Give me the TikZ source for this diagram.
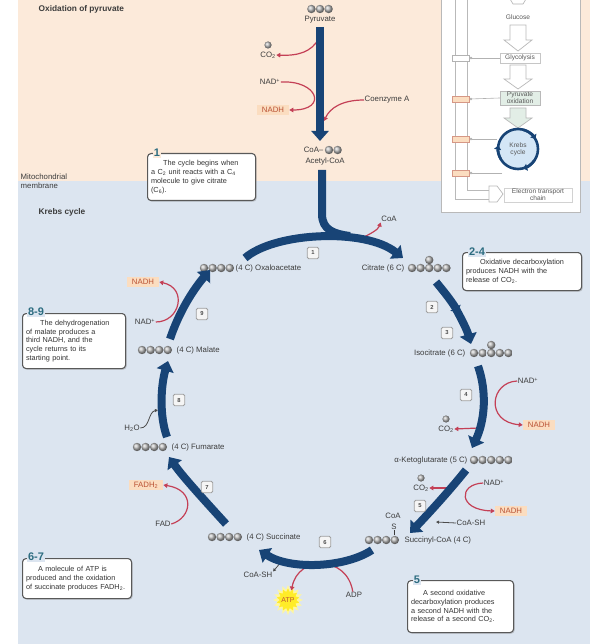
\documentclass[tikz,border=0pt]{standalone}
\usepackage{fontspec}
\setmainfont{Liberation Sans}
\usetikzlibrary{arrows.meta,shapes.geometric,shadows}

\definecolor{peachbg}{RGB}{252,234,218}
\definecolor{bluebg}{RGB}{220,229,240}
\definecolor{navy}{RGB}{24,68,118}
\definecolor{redc}{RGB}{196,64,86}
\definecolor{nadfill}{RGB}{251,221,192}
\definecolor{nadtxt}{RGB}{186,82,52}
\definecolor{tealnum}{RGB}{44,108,128}
\definecolor{txt}{RGB}{60,60,60}
\definecolor{pyrfill}{RGB}{226,238,230}
\definecolor{krebsfill}{RGB}{212,230,246}
\definecolor{atpyellow}{RGB}{255,236,40}

\begin{document}
\begin{tikzpicture}[x=1pt,y=-1pt,
  lbl/.style={font=\fontsize{7.8}{8.8}\selectfont, text=txt, inner sep=0.5pt},
  hdr/.style={font=\bfseries\fontsize{8.3}{9}\selectfont, text=txt, inner sep=0.5pt},
  nadbox/.style={lbl, fill=nadfill, text=nadtxt, inner xsep=5pt, inner ysep=2pt},
  stepbox/.style={draw=gray!75, fill=gray!8, rounded corners=1.5pt, line width=0.9pt,
    minimum size=11.5pt, inner sep=0, font=\bfseries\fontsize{5.8}{6}\selectfont, text=gray!60!black},
  callout/.style={draw=black!65, line width=1.1pt, rounded corners=3.5pt, fill=white,
    align=left, inner sep=3.5pt, font=\fontsize{7.3}{8.8}\selectfont, text=black!80,
    anchor=north west, drop shadow={opacity=0.3,shadow xshift=1.2pt,shadow yshift=-1.2pt}},
  calloutnum/.style={font=\bfseries\fontsize{11}{11}\selectfont, text=tealnum, inner sep=1pt},
  cyc/.style={draw=navy, line width=8pt, -{Triangle[width=17pt,length=10pt]}},
  cycmid/.style={draw=navy, line width=8pt, -{Triangle[width=12pt,length=5pt]}},
  redarr/.style={draw=redc, line width=1.2pt, -{Triangle[width=4.5pt,length=4pt]}},
  darkarr/.style={draw=black!70, line width=0.8pt, -{Triangle[width=3pt,length=3pt]}},
  cball/.style={ball color=gray!55},
  insetlbl/.style={font=\fontsize{6.6}{7.2}\selectfont, text=gray!70!black, inner sep=1pt},
  pics/carbons/.style={code={\foreach \k in {1,...,#1} \shade[cball] ({(\k-1)*8.6},0) circle (4.2);}}
]
\useasboundingbox (0,0) rectangle (590,644);

% backgrounds: intermembrane space above, matrix below
\fill[white] (0,0) rectangle (590,644);
\fill[peachbg] (18,0) rectangle (590,181);
\fill[bluebg] (18,181) rectangle (590,644);

\node[hdr, anchor=west] (hdrox) at (38,9) {Oxidation of pyruvate};
\node[lbl, anchor=west, align=left] (membr) at (20,181) {Mitochondrial\\membrane};
\node[hdr, anchor=west] (hdrkc) at (38,212) {Krebs cycle};

% ---------- overview inset ----------
\draw[gray!55, line width=0.8pt, fill=white] (441,-2) rectangle (580,212);
\draw[gray!55, line width=0.7pt] (455,-2) |- (489,199);
\draw[gray!55, line width=0.7pt] (467,-2) |- (489,190);
\draw[gray!60, line width=0.6pt] (510,-1) -- (513,4) -- (523,4) -- (526,-1);
\node[insetlbl] (gluc) at (518,17) {Glucose};
\draw[gray!55, line width=0.7pt, fill=white]
  (510,25) -- (526,25) -- (526,40) -- (532,40) -- (518,51) -- (504,40) -- (510,40) -- cycle;
\node[insetlbl, draw=gray!45, minimum width=40pt, minimum height=10pt] (glyc) at (520,58) {Glycolysis};
\draw[gray!55, line width=0.7pt, fill=white]
  (510,65) -- (526,65) -- (526,79) -- (532,79) -- (518,89) -- (504,79) -- (510,79) -- cycle;
\node[insetlbl, draw=gray!55, fill=pyrfill, align=center, minimum width=40pt] (pyrox) at (520,98) {Pyruvate\\oxidation};
\draw[gray!55, line width=0.7pt, fill=pyrfill]
  (510,108) -- (526,108) -- (526,118) -- (532,118) -- (518,128) -- (504,118) -- (510,118) -- cycle;
\node[circle, draw=navy, line width=2.6pt, fill=krebsfill, minimum size=40pt, inner sep=0,
  insetlbl, align=center] (krebs) at (518,149) {Krebs\\cycle};
\draw[navy, line width=2.6pt, -{Triangle[width=7pt,length=4pt]}] (krebs.center) ++(285:20) arc[start angle=285, end angle=330, radius=20];
\draw[navy, line width=2.6pt, -{Triangle[width=7pt,length=4pt]}] (krebs.center) ++(35:20) arc[start angle=35, end angle=75, radius=20];
\draw[navy, line width=2.6pt, -{Triangle[width=7pt,length=4pt]}] (krebs.center) ++(150:20) arc[start angle=150, end angle=190, radius=20];
\draw[gray!55, line width=0.7pt, fill=white] (489,186) -- (497,186) -- (503,194) -- (497,202) -- (489,202) -- cycle;
\node[insetlbl, draw=gray!35, align=center, minimum width=68pt] (etc) at (538,195) {Electron transport\\chain};
\node[draw=gray!60, fill=white, minimum width=17pt, minimum height=6pt, inner sep=0] (sbA) at (461,58) {};
\node[draw=nadtxt!60, fill=nadfill, minimum width=17pt, minimum height=6pt, inner sep=0] (sbB) at (461,99) {};
\node[draw=nadtxt!60, fill=nadfill, minimum width=17pt, minimum height=6pt, inner sep=0] (sbC) at (461,139) {};
\node[draw=nadtxt!60, fill=nadfill, minimum width=17pt, minimum height=6pt, inner sep=0] (sbD) at (461,173) {};
\draw[gray!60, line width=0.6pt, -{Circle[length=2.5pt]}] (glyc.west) -- (sbA.east);
\draw[gray!60, line width=0.6pt, -{Circle[length=2.5pt]}] (pyrox.west) -- (sbB.east);
\draw[gray!60, line width=0.6pt, -{Circle[length=2.5pt]}] (krebs.west |- sbC) -- (sbC.east);
\draw[gray!60, line width=0.6pt, -{Circle[length=2.5pt]}] (502,173) -- (sbD.east);

% ---------- oxidation of pyruvate ----------
\pic at (311.4,9) {carbons=3};
\node[lbl] (pyr) at (320,20) {Pyruvate};
\coordinate (pyrtop) at (320,27);
\coordinate (pyrend) at (320,141);

\shade[cball] (268,45) circle (3.6);
\node[lbl] (co2a) at (268,55) {CO\textsubscript{2}};
\coordinate (b1) at (319,38);
\draw[redarr] (b1) .. controls (312,52) and (298,56) .. (co2a.east);
\node[lbl] (nad1) at (270,82) {NAD\textsuperscript{+}};
\node[nadbox] (nadh1) at (273,110) {NADH};
\draw[redarr] (nad1.east) .. controls (318,80) and (328,110) .. (nadh1.east);
\node[lbl, anchor=west] (coenz) at (364,100) {Coenzyme A};
\coordinate (b2) at (324,121);
\draw[redarr] (coenz.west) .. controls (342,100) and (330,108) .. (b2);

\draw[cyc] (pyrtop) -- (pyrend);

\node[lbl, anchor=east] (acoa) at (324,150) {CoA--};
\shade[cball] (329,150) circle (4.2);
\shade[cball] (337.6,150) circle (4.2);
\node[lbl] (acetyl) at (325,161) {Acetyl-CoA};

% ---------- Krebs cycle: metabolites ----------
\pic at (204,268) {carbons=4};
\node[lbl, anchor=west] (oaa) at (235,268) {(4 C) Oxaloacetate};
\node[lbl, anchor=east] (cit) at (405,268) {Citrate (6 C)};
\pic at (412,268) {carbons=5};
\shade[cball] (429.2,260) circle (4.2);
\node[lbl, anchor=east] (iso) at (466,353) {Isocitrate (6 C)};
\pic at (474,353) {carbons=5};
\shade[cball] (491.2,345) circle (4.2);
\node[lbl, anchor=east] (akg) at (468,460) {α-Ketoglutarate (5 C)};
\pic at (474,460) {carbons=5};
\pic at (369,540) {carbons=4};
\node[lbl, anchor=west] (sucoa) at (404,540) {Succinyl-CoA (4 C)};
\node[lbl] (coas) at (393,516) {CoA};
\node[lbl] (sulf) at (394,527) {S};
\draw[txt, line width=0.5pt] (sulf.south) -- (394,535);
\pic at (212,537) {carbons=4};
\node[lbl, anchor=west] (succ) at (246,537) {(4 C) Succinate};
\pic at (137,447) {carbons=4};
\node[lbl, anchor=west] (fum) at (171,447) {(4 C) Fumarate};
\pic at (142,350) {carbons=4};
\node[lbl, anchor=west] (mal) at (176,350) {(4 C) Malate};

% ---------- side reactions ----------
\node[lbl] (coa1) at (389,219) {CoA};
\coordinate (b1c) at (360,239);
\draw[redarr] (b1c) .. controls (370,234) and (378,230) .. (coa1.south west);

\node[lbl] (nad4) at (528,381) {NAD\textsuperscript{+}};
\node[nadbox] (nadh4) at (539,425) {NADH};
\draw[redarr] (nad4.west) .. controls (490,382) and (485,422) .. (nadh4.west);
\shade[cball] (446,419) circle (3.6);
\node[lbl] (co24) at (446,429) {CO\textsubscript{2}};
\coordinate (b4) at (479,428);
\draw[redarr] (b4) -- (co24.east);

\shade[cball] (421,478) circle (3.6);
\node[lbl] (co25) at (421,488) {CO\textsubscript{2}};
\coordinate (b5) at (449,488);
\draw[redarr] (b5) -- (co25.east);
\node[lbl] (nad5) at (494,483) {NAD\textsuperscript{+}};
\node[nadbox] (nadh5) at (511,511) {NADH};
\draw[redarr] (nad5.west) .. controls (458,484) and (458,510) .. (nadh5.west);
\node[lbl] (coash5) at (471,523) {CoA-SH};
\coordinate (b5b) at (436,522);
\draw[darkarr] (coash5.west) -- (b5b);

\node[lbl] (coash6) at (258,575) {CoA-SH};
\coordinate (b6) at (282,561);
\draw[darkarr] (b6) -- (coash6.north east);
\node[star, star points=16, star point ratio=1.45, fill=atpyellow!45, minimum size=30pt, inner sep=0] (atphalo) at (288,600) {};
\node[star, star points=14, star point ratio=1.4, fill=atpyellow, minimum size=23pt, inner sep=0] (atpglow) at (288,600) {};
\node[font=\fontsize{7}{8}\selectfont, text=nadtxt, inner sep=0] (atp) at (288,600) {ATP};
\node[lbl] (adp) at (354,595) {ADP};
\draw[redarr] (adp.110) .. controls (347,555) and (298,555) .. (atpglow.70);

\node[nadbox] (fadh2) at (146,485) {FADH\textsubscript{2}};
\node[lbl] (fad) at (163,524) {FAD};
\draw[redarr] (fad.east) .. controls (192,518) and (196,490) .. (fadh2.east);

\node[lbl] (h2o) at (132,428) {H\textsubscript{2}O};
\coordinate (b8) at (158,410);
\draw[darkarr] (h2o.east) .. controls (150,428) and (148,412) .. (b8);

\node[lbl] (nad9) at (145,322) {NAD\textsuperscript{+}};
\node[nadbox] (nadh9) at (143,282) {NADH};
\draw[redarr] (nad9.east) .. controls (180,322) and (188,288) .. (nadh9.east);

% ---------- Krebs cycle: main arrows ----------
\coordinate (stemtop) at (322,170);
\coordinate (stemjoin) at (350,236);
\draw[navy, line width=8pt] (stemtop) -- (322,214) .. controls (322,230) and (334,234) .. (stemjoin);
\coordinate (s1a) at (245,258); \coordinate (s1b) at (403,258);
\draw[cyc] (s1a) .. controls (275,232) and (365,228) .. (s1b);
\coordinate (s2a) at (436,282); \coordinate (s2b) at (458,312);
\draw[cycmid] (s2a) .. controls (446,294) and (452,302) .. (s2b);
\coordinate (s3a) at (456,309); \coordinate (s3b) at (471,344);
\draw[cyc] (s3a) .. controls (462,320) and (467,330) .. (s3b);
\coordinate (s4a) at (478,366); \coordinate (s4b) at (472,448);
\draw[cyc] (s4a) .. controls (487,392) and (485,420) .. (s4b);
\coordinate (s5a) at (466,470); \coordinate (s5b) at (410,533);
\draw[cyc] (s5a) .. controls (450,490) and (430,512) .. (s5b);
\coordinate (s6a) at (372,550); \coordinate (s6b) at (259,550);
\draw[cyc] (s6a) .. controls (345,568) and (290,570) .. (s6b);
\coordinate (s7a) at (226,524); \coordinate (s7b) at (169,457);
\draw[cyc] (s7a) .. controls (206,502) and (183,477) .. (s7b);
\coordinate (s8a) at (167,437); \coordinate (s8b) at (168,361);
\draw[cyc] (s8a) .. controls (159,415) and (161,385) .. (s8b);
\coordinate (s9a) at (170,339); \coordinate (s9b) at (210,270);
\draw[cyc] (s9a) .. controls (179,312) and (193,290) .. (s9b);

% step numbers
\node[stepbox] (n1) at (313,253) {1};
\node[stepbox] (n2) at (432,307) {2};
\node[stepbox] (n3) at (447,333) {3};
\node[stepbox] (n4) at (466,395) {4};
\node[stepbox] (n5) at (420,506) {5};
\node[stepbox] (n6) at (325,542) {6};
\node[stepbox] (n7) at (207,487) {7};
\node[stepbox] (n8) at (179,400) {8};
\node[stepbox] (n9) at (202,314) {9};

% ---------- callouts ----------
\node[callout, text width=101pt, minimum height=47pt] (cb1) at (147,153)
  {\hspace*{12pt}The cycle begins when\\a C\textsubscript{2} unit reacts with a C\textsubscript{4}\\molecule to give citrate\\(C\textsubscript{6}).};
\node[calloutnum, fill=peachbg] (cn1) at (157,153) {1};

\node[callout, text width=112pt, minimum height=38pt] (cb24) at (462,252)
  {\hspace*{14pt}Oxidative decarboxylation\\produces NADH with the\\release of CO\textsubscript{2}.};
\node[calloutnum, fill=bluebg] (cn24) at (477,252) {2-4};

\node[callout, text width=96pt, minimum height=55pt] (cb89) at (22,313)
  {\hspace*{14pt}The dehydrogenation\\of malate produces a\\third NADH, and the\\cycle returns to its\\starting point.};
\node[calloutnum, fill=bluebg] (cn89) at (36,312) {8-9};

\node[callout, text width=102pt, minimum height=40pt] (cb67) at (22,558)
  {\hspace*{12pt}A molecule of ATP is\\produced and the oxidation\\of succinate produces FADH\textsubscript{2}.};
\node[calloutnum, fill=bluebg] (cn67) at (36,557) {6-7};

\node[callout, text width=99pt, minimum height=52pt] (cb5) at (407,580)
  {\hspace*{12pt}A second oxidative\\decarboxylation produces\\a second NADH with the\\release of a second CO\textsubscript{2}.};
\node[calloutnum, fill=bluebg] (cn5) at (417,580) {5};

\end{tikzpicture}
\end{document}
